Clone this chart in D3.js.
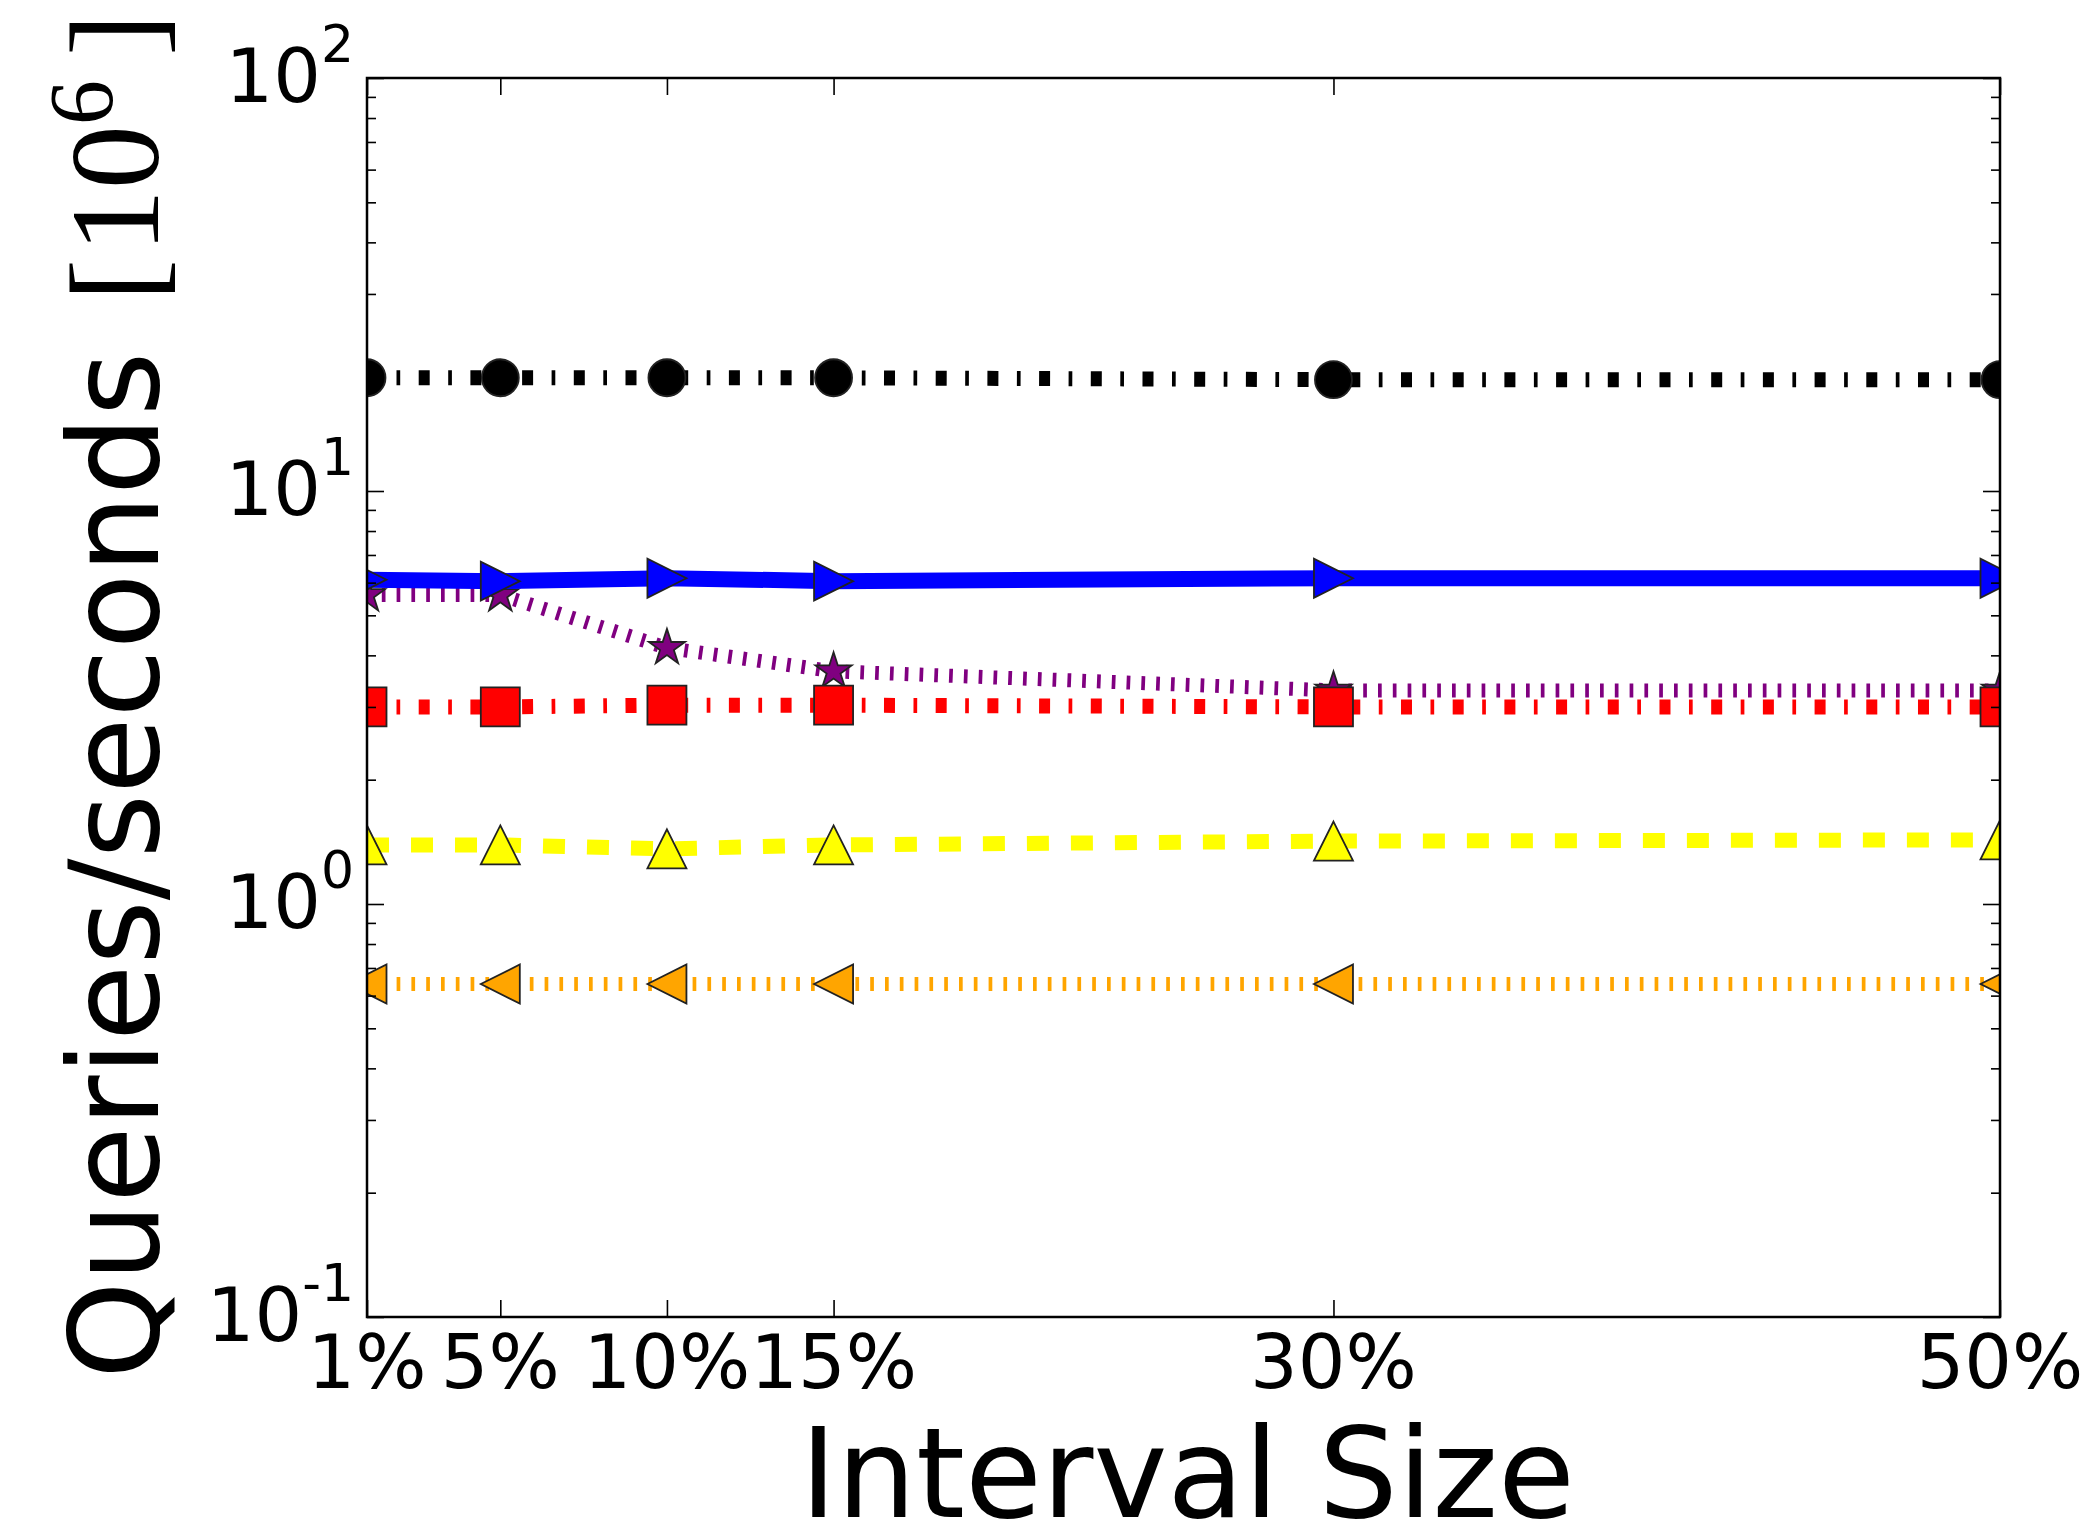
<!DOCTYPE html>
<html>
<head>
<meta charset="utf-8">
<script src="https://cdn.jsdelivr.net/npm/d3@7"></script>
<style>
  body { margin: 0; background: #fff; }
</style>
</head>
<body>
<script>
// values (queries per second, in millions)
const intervals = [1, 5, 10, 15, 30, 50];
const intervalLabels = ["1%", "5%", "10%", "15%", "30%", "50%"];
const blackCircle = [18.8, 18.8, 18.8, 18.8, 18.6, 18.6];
const blueRight = [6.1, 6.05, 6.15, 6.05, 6.15, 6.15];
const purpleStar = [5.6, 5.6, 4.17, 3.66, 3.29, 3.29];
const redSquare = [3.0, 3.0, 3.03, 3.03, 3.0, 3.0];
const yellowUp = [1.39, 1.39, 1.36, 1.39, 1.42, 1.43];
const orangeLeft = [0.64, 0.64, 0.64, 0.64, 0.64, 0.64];
const yTickExps = [-1, 0, 1, 2];

const W = 2091, H = 1533;
const plotLeft = 367, plotRight = 2000, plotTop = 78, plotBottom = 1317;

const svg = d3.select("body").append("svg")
  .attr("width", W).attr("height", H)
  .style("display", "block");

svg.append("rect").attr("width", W).attr("height", H).attr("fill", "#fff");

const x = d3.scaleLinear().domain([1, 50]).range([plotLeft, plotRight]);
const y = d3.scaleLog().domain([0.1, 100]).range([plotBottom, plotTop]);

// custom marker shapes (matplotlib style triangles)
const tri = (dir) => ({
  draw(ctx, size) {
    const r = Math.sqrt(size) / 2;
    if (dir === "up") { ctx.moveTo(0, -r); ctx.lineTo(r, r); ctx.lineTo(-r, r); }
    if (dir === "right") { ctx.moveTo(r, 0); ctx.lineTo(-r, r); ctx.lineTo(-r, -r); }
    if (dir === "left") { ctx.moveTo(-r, 0); ctx.lineTo(r, -r); ctx.lineTo(r, r); }
    ctx.closePath();
  }
});

// drawing order: later ones on top
const series = [
  { values: orangeLeft, color: "#ffa500", width: 14, dash: "3.7,11.1", shape: tri("left"), size: 39 * 39 },
  { values: yellowUp, color: "#ffff00", width: 15, dash: "22,22", shape: tri("up"), size: 39 * 39 },
  { values: purpleStar, color: "#800080", width: 14, dash: "3.7,11.1", shape: d3.symbolStar, size: 19 * 19 / 0.8908 },
  { values: redSquare, color: "#ff0000", width: 15, dash: "11,18.5,3.7,18.5", shape: d3.symbolSquare, size: 39 * 39 },
  { values: blueRight, color: "#0000ff", width: 16, dash: null, shape: tri("right"), size: 39 * 39 },
  { values: blackCircle, color: "#000000", width: 15, dash: "11,18.5,3.7,18.5", shape: d3.symbolCircle, size: Math.PI * 18.5 * 18.5 }
];

svg.append("defs").append("clipPath").attr("id", "plotClip")
  .append("rect")
  .attr("x", plotLeft).attr("y", plotTop)
  .attr("width", plotRight - plotLeft).attr("height", plotBottom - plotTop);

const plot = svg.append("g").attr("clip-path", "url(#plotClip)");

const line = d3.line()
  .x((d, i) => x(intervals[i]))
  .y((d) => y(d));

series.forEach((s) => {
  const g = plot.append("g");
  g.append("path")
    .attr("d", line(s.values))
    .attr("fill", "none")
    .attr("stroke", s.color)
    .attr("stroke-width", s.width)
    .attr("stroke-dasharray", s.dash)
    .attr("stroke-linecap", "butt");

  g.selectAll("path.mark")
    .data(s.values)
    .enter()
    .append("path")
    .attr("class", "mark")
    .attr("transform", (d, i) => `translate(${x(intervals[i])},${y(d)})`)
    .attr("d", d3.symbol().type(s.shape).size(s.size))
    .attr("fill", s.color)
    .attr("stroke", "#222")
    .attr("stroke-width", 1.8);
});

// ticks, all pointing inwards
const majors = yTickExps.map((e) => Math.pow(10, e));
const minors = y.ticks().filter((v) => !majors.some((m) => Math.abs(m - v) < 1e-9));

function tickAxis(axis, tx, ty) {
  const g = svg.append("g")
    .attr("transform", `translate(${tx},${ty})`)
    .call(axis);
  g.select(".domain").remove();
  g.selectAll(".tick line").attr("stroke", "#000").attr("stroke-width", 1.6);
  g.selectAll("text").remove();
}

tickAxis(d3.axisLeft(y).tickValues(majors).tickSize(-17).tickFormat(""), plotLeft, 0);
tickAxis(d3.axisLeft(y).tickValues(minors).tickSize(-9).tickFormat(""), plotLeft, 0);
tickAxis(d3.axisRight(y).tickValues(majors).tickSize(-17).tickFormat(""), plotRight, 0);
tickAxis(d3.axisRight(y).tickValues(minors).tickSize(-9).tickFormat(""), plotRight, 0);
tickAxis(d3.axisBottom(x).tickValues(intervals).tickSize(-17).tickFormat(""), 0, plotBottom);
tickAxis(d3.axisTop(x).tickValues(intervals).tickSize(-17).tickFormat(""), 0, plotTop);

// frame
svg.append("rect")
  .attr("x", plotLeft).attr("y", plotTop)
  .attr("width", plotRight - plotLeft).attr("height", plotBottom - plotTop)
  .attr("fill", "none")
  .attr("stroke", "#000")
  .attr("stroke-width", 2.5);

// y tick labels 10^n
const yLabels = svg.append("g")
  .attr("font-family", "DejaVu Sans")
  .attr("fill", "#000");

yTickExps.forEach((e) => {
  const t = yLabels.append("text")
    .attr("x", 354)
    .attr("y", y(Math.pow(10, e)) + 24)
    .attr("text-anchor", "end")
    .attr("font-size", 75);
  t.append("tspan").text("10");
  t.append("tspan").attr("font-size", 52).attr("dy", -40).text(String(e));
});

// x tick labels
svg.append("g")
  .attr("font-family", "DejaVu Sans")
  .attr("font-size", 75)
  .selectAll("text")
  .data(intervals)
  .enter()
  .append("text")
  .attr("x", (d) => x(d))
  .attr("y", 1388)
  .attr("text-anchor", "middle")
  .text((d, i) => intervalLabels[i]);

// axis titles
svg.append("text")
  .attr("x", (plotLeft + plotRight) / 2 + 4)
  .attr("y", 1517)
  .attr("text-anchor", "middle")
  .attr("font-family", "DejaVu Sans")
  .attr("font-size", 125)
  .text("Interval Size");

const yTitle = svg.append("text")
  .attr("transform", "translate(158,1379) rotate(-90)")
  .attr("font-family", "DejaVu Sans")
  .attr("font-size", 124);
yTitle.append("tspan").text("Queries/seconds");
const math = yTitle.append("tspan")
  .attr("font-family", "Liberation Serif")
  .attr("font-size", 128);
math.append("tspan").attr("dx", 50).text("[");
math.append("tspan").attr("dx", 6).text("10");
math.append("tspan").attr("font-size", 90).attr("dy", -46).text("6");
math.append("tspan").attr("dy", 46).attr("dx", 24).text("]");
</script>
</body>
</html>
